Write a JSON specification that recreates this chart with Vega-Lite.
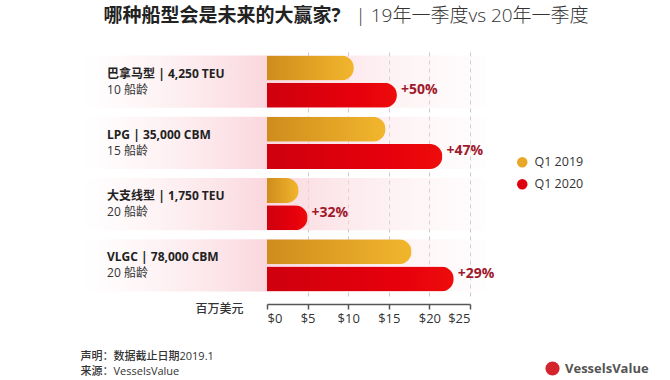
{
  "$schema": "https://vega.github.io/schema/vega-lite/v6.json",
  "width": 420,
  "height": 245,
  "autosize": "none",
  "padding": {"left": 88, "top": 51, "right": 162, "bottom": 84},
  "background": "white",
  "config": {"view": {"stroke": null}, "font": "Open Sans, Noto Sans CJK SC"},
  "datasets": {
    "ships": [
      {"ship": "巴拿马型", "spec": "巴拿马型 | 4,250 TEU", "age": "10 船龄", "year": "Q1 2019", "value": 10.7, "change": ""},
      {"ship": "巴拿马型", "spec": "巴拿马型 | 4,250 TEU", "age": "10 船龄", "year": "Q1 2020", "value": 16.0, "change": "+50%"},
      {"ship": "LPG", "spec": "LPG | 35,000 CBM", "age": "15 船龄", "year": "Q1 2019", "value": 14.6, "change": ""},
      {"ship": "LPG", "spec": "LPG | 35,000 CBM", "age": "15 船龄", "year": "Q1 2020", "value": 21.6, "change": "+47%"},
      {"ship": "大支线型", "spec": "大支线型 | 1,750 TEU", "age": "20 船龄", "year": "Q1 2019", "value": 3.9, "change": ""},
      {"ship": "大支线型", "spec": "大支线型 | 1,750 TEU", "age": "20 船龄", "year": "Q1 2020", "value": 5.0, "change": "+32%"},
      {"ship": "VLGC", "spec": "VLGC | 78,000 CBM", "age": "20 船龄", "year": "Q1 2019", "value": 17.8, "change": ""},
      {"ship": "VLGC", "spec": "VLGC | 78,000 CBM", "age": "20 船龄", "year": "Q1 2020", "value": 23.0, "change": "+29%"}
    ]
  },
  "data": {"name": "ships"},
  "layer": [
    {
      "transform": [{"filter": "datum.year == 'Q1 2019'"}],
      "mark": {"type": "rect", "fill": {"gradient": "linear", "x1": 0, "x2": 1, "y1": 0, "y2": 0, "stops": [
        {"offset": 0, "color": "rgba(252,228,232,0)"},
        {"offset": 0.46, "color": "rgba(249,208,215,0.85)"},
        {"offset": 1, "color": "rgba(252,235,238,0.1)"}
      ]}},
      "encoding": {
        "x": {"datum": -23, "type": "quantitative", "axis": null, "scale": {"domain": [0, 25], "range": [179, 382], "nice": false, "zero": false}},
        "x2": {"datum": 27},
        "y": {"field": "ship", "type": "nominal", "sort": null, "axis": null, "scale": {"paddingInner": 0.15, "paddingOuter": 0.075}}
      }
    },
    {
      "transform": [{"filter": "datum.year == 'Q1 2019'"}],
      "mark": {"type": "text", "align": "left", "baseline": "middle", "dy": -8, "fontSize": 12, "fontWeight": "bold", "color": "#222"},
      "encoding": {
        "x": {"datum": -19.7, "type": "quantitative", "axis": null},
        "y": {"field": "ship", "type": "nominal", "sort": null, "axis": null},
        "text": {"field": "spec"}
      }
    },
    {
      "transform": [{"filter": "datum.year == 'Q1 2019'"}],
      "mark": {"type": "text", "align": "left", "baseline": "middle", "dy": 8, "fontSize": 12, "color": "#333"},
      "encoding": {
        "x": {"datum": -19.7, "type": "quantitative", "axis": null},
        "y": {"field": "ship", "type": "nominal", "sort": null, "axis": null},
        "text": {"field": "age"}
      }
    },
    {
      "transform": [{"filter": "datum.year == 'Q1 2019'"}],
      "mark": {"type": "bar", "cornerRadiusEnd": 12.5, "fill": {"gradient": "linear", "x1": 0, "x2": 1, "y1": 0, "y2": 0, "stops": [
        {"offset": 0, "color": "#cf8c1c"},
        {"offset": 1, "color": "#f2b62d"}
      ]}},
      "encoding": {
        "x": {"field": "value", "type": "quantitative", "scale": {"domain": [0, 25], "range": [179, 382], "nice": false, "zero": false},
          "axis": {"orient": "bottom", "values": [0, 5, 10, 15, 20, 25], "labelExpr": "'$' + datum.value", "offset": 8,
            "domainColor": "#555", "domainWidth": 1.5, "tickColor": "#555", "tickWidth": 1.5, "tickSize": 5,
            "labelFontSize": 13, "labelColor": "#333", "labelPadding": 3,
            "grid": true, "gridColor": "#c8c8c8", "gridDash": [4, 4],
            "gridOpacity": {"condition": {"test": "datum.value === 0", "value": 0}, "value": 1},
            "title": "百万美元", "titleX": 155, "titleY": 4, "titleAlign": "right", "titleBaseline": "middle",
            "titleFontSize": 12, "titleFontWeight": 500, "titleColor": "#333"}},
        "y": {"field": "ship", "type": "nominal", "sort": null,
          "axis": {"orient": "left", "labels": false, "ticks": false, "domain": false, "grid": false,
            "title": "哪种船型会是未来的大赢家?", "titleAngle": 0, "titleAlign": "left", "titleBaseline": "middle",
            "titleX": 15, "titleY": -36, "titleFontSize": 19, "titleFontWeight": "bold", "titleColor": "#222"}},
        "yOffset": {"field": "year", "scale": {"domain": ["Q1 2019", "Q1 2020"], "paddingInner": 0.08}}
      }
    },
    {
      "transform": [{"filter": "datum.year == 'Q1 2020'"}],
      "mark": {"type": "bar", "cornerRadiusEnd": 12.5, "fill": {"gradient": "linear", "x1": 0, "x2": 1, "y1": 0, "y2": 0, "stops": [
        {"offset": 0, "color": "#cf000e"},
        {"offset": 0.7, "color": "#e6000b"},
        {"offset": 1, "color": "#ee0c0c"}
      ]}},
      "encoding": {
        "x": {"field": "value", "type": "quantitative", "axis": null},
        "y": {"field": "ship", "type": "nominal", "sort": null, "axis": null},
        "yOffset": {"field": "year", "scale": {"domain": ["Q1 2019", "Q1 2020"], "paddingInner": 0.08}}
      }
    },
    {
      "transform": [{"filter": "datum.year == 'Q1 2020'"}],
      "mark": {"type": "text", "align": "left", "baseline": "middle", "dx": 4, "dy": -5, "fontSize": 14, "fontWeight": "bold", "color": "#9f1a2c"},
      "encoding": {
        "x": {"field": "value", "type": "quantitative", "axis": null},
        "y": {"field": "ship", "type": "nominal", "sort": null, "axis": null},
        "yOffset": {"field": "year", "scale": {"domain": ["Q1 2019", "Q1 2020"], "paddingInner": 0.08}},
        "text": {"field": "change"}
      }
    },
    {
      "mark": {"type": "point", "filled": true, "opacity": 0},
      "encoding": {
        "x": {"field": "value", "type": "quantitative",
          "axis": {"orient": "top", "labels": false, "ticks": false, "domain": false, "grid": false,
            "title": ["声明：数据截止日期2019.1", "来源：VesselsValue"], "titleAngle": 0, "titleAlign": "left", "titleBaseline": "top",
            "titleX": -8, "titleY": 299, "titleFontSize": 11, "titleFontWeight": 500, "titleColor": "#333", "titleLineHeight": 15}},
        "y": {"field": "ship", "type": "nominal", "sort": null,
          "axis": {"orient": "right", "labels": false, "ticks": false, "domain": false, "grid": false,
            "title": "|   19年一季度vs 20年一季度", "titleAngle": 0, "titleAlign": "left", "titleBaseline": "middle",
            "titleX": -153, "titleY": -36, "titleFontSize": 19, "titleFontWeight": 300, "titleColor": "#333"}},
        "color": {"field": "year", "type": "nominal",
          "scale": {"domain": ["Q1 2019", "Q1 2020"], "range": ["#e8a826", "#df000f"]},
          "legend": {"orient": "none", "legendX": 428, "legendY": 105, "title": null, "symbolType": "circle", "symbolSize": 110,
            "symbolOpacity": 1, "symbolStrokeWidth": 0, "labelFontSize": 12.5, "labelColor": "#333", "rowPadding": 9, "labelOffset": 6}}
      }
    },
    {
      "transform": [{"filter": "datum.year == 'Q1 2019'"}],
      "mark": {"type": "point", "filled": true, "opacity": 0, "color": "#d4242c"},
      "encoding": {
        "x": {"field": "value", "type": "quantitative", "axis": null},
        "y": {"field": "ship", "type": "nominal", "sort": null, "axis": null},
        "shape": {"datum": "VesselsValue", "type": "nominal", "scale": {"range": ["circle"]},
          "legend": {"orient": "none", "legendX": 457, "legendY": 310, "title": null, "symbolType": "circle", "symbolSize": 200,
            "symbolOpacity": 1, "symbolFillColor": "#d4242c", "symbolStrokeWidth": 0, "labelFontSize": 13, "labelFontWeight": "bold",
            "labelColor": "#555", "labelOffset": 5}}
      }
    }
  ],
  "resolve": {"axis": {"x": "independent", "y": "independent"}}
}
